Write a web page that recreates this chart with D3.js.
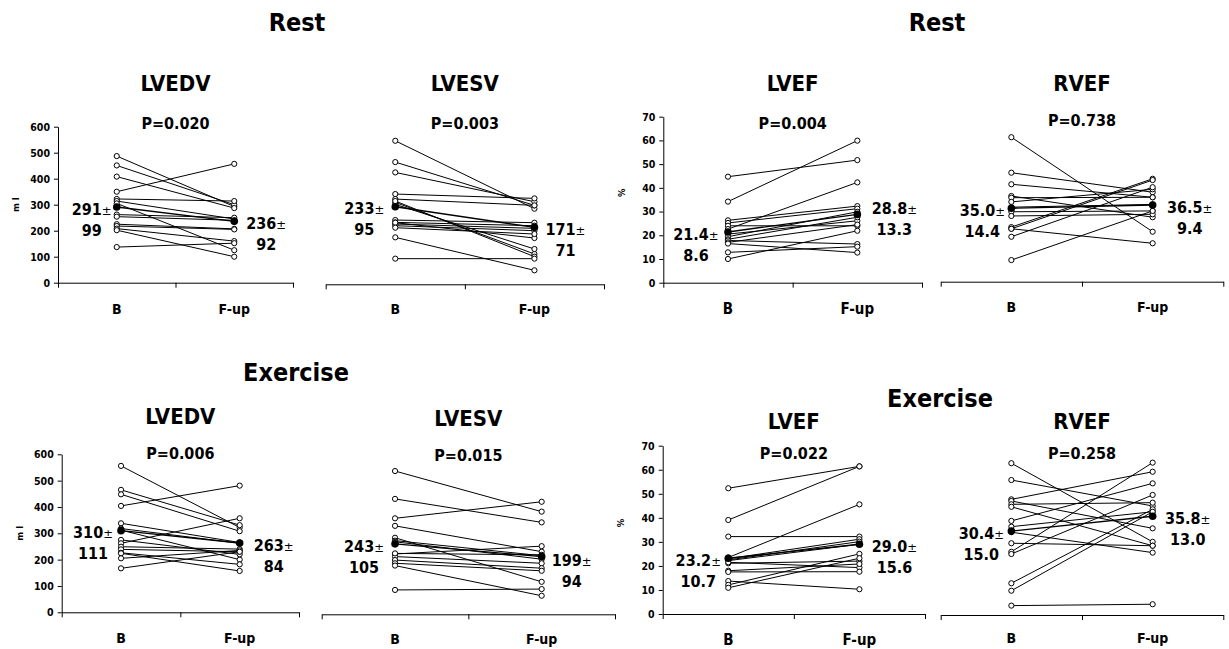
<!DOCTYPE html>
<html><head><meta charset="utf-8">
<script src="https://cdn.jsdelivr.net/npm/d3@7/dist/d3.min.js"></script>
<style>
html,body{margin:0;padding:0;background:#fff;}
svg text{font-family:'DejaVu Sans Condensed','DejaVu Sans',sans-serif;font-stretch:condensed;font-weight:bold;fill:#000;}
</style></head><body>
<svg id="c" width="1229" height="649"></svg>
<script>
// ---------------- DATA ----------------
const categories = ["B", "F-up"];
const sectionTitles = ["Rest", "Rest", "Exercise", "Exercise"];
const panelTitles = ["LVEDV", "LVESV", "LVEF", "RVEF", "LVEDV", "LVESV", "LVEF", "RVEF"];
const pValues = ["P=0.020", "P=0.003", "P=0.004", "P=0.738", "P=0.006", "P=0.015", "P=0.022", "P=0.258"];
const volumeTicks = [0, 100, 200, 300, 400, 500, 600];
const efTicks = [0, 10, 20, 30, 40, 50, 60, 70];

const restLVEDV_B = [487, 451, 408, 350, 322, 314, 305, 262, 254, 225, 218, 208, 202, 137];
const restLVEDV_F = [293, 300, 287, 457, 314, 245, 125, 250, 240, 207, 205, 160, 100, 152];
const restLVEDV_mean = [291, 236], restLVEDV_sd = [99, 92];

const restLVESV_B = [431, 367, 336, 271, 256, 246, 240, 250, 193, 186, 181, 176, 185, 170, 141, 77];
const restLVESV_F = [227, 237, 248, 258, 237, 91, 106, 83, 185, 176, 168, 161, 139, 151, 42, 77];
const restLVESV_mean = [233, 171], restLVESV_sd = [95, 71];

const restLVEF_B = [44.7, 34.2, 26.3, 25.2, 24.0, 22.6, 20.5, 19.4, 18.3, 17.8, 17.0, 16.5, 12.8, 10.0];
const restLVEF_F = [51.7, 59.9, 32.3, 31.2, 24.0, 42.3, 26.1, 29.9, 27.6, 16.3, 24.5, 12.7, 15.2, 21.9];
const restLVEF_mean = [21.4, 28.8], restLVEF_sd = [8.6, 13.3];

const restRVEF_B = [68.8, 51.9, 46.4, 40.8, 40.0, 38.0, 35.5, 33.3, 31.3, 26.0, 25.2, 25.2, 21.4, 10.3];
const restRVEF_F = [23.8, 42.6, 40.2, 30.7, 40.2, 44.0, 36.8, 33.7, 32.1, 49.0, 18.3, 48.4, 45.0, 33.7];
const restRVEF_mean = [35.0, 36.5], restRVEF_sd = [14.4, 9.4];

const exLVEDV_B = [556, 465, 448, 404, 338, 318, 312, 275, 262, 249, 239, 226, 224, 205, 167];
const exLVEDV_F = [322, 331, 308, 481, 265, 262, 200, 220, 357, 240, 230, 182, 157, 235, 230];
const exLVEDV_mean = [310, 263], exLVEDV_sd = [111, 84];

const exLVESV_B = [494, 398, 331, 305, 264, 254, 250, 208, 199, 187, 176, 168, 84, 210];
const exLVESV_F = [354, 317, 388, 216, 112, 202, 190, 235, 176, 159, 150, 64, 87, 205];
const exLVESV_mean = [243, 199], exLVESV_sd = [105, 94];

const exLVEF_B = [52.3, 39.1, 32.2, 23.5, 23.0, 22.5, 22.2, 21.1, 21.5, 18.0, 17.5, 13.7, 12.1, 10.9];
const exLVEF_F = [61.4, 61.4, 32.2, 45.6, 31.1, 30.1, 29.0, 22.0, 19.3, 20.8, 17.6, 10.3, 25.0, 23.2];
const exLVEF_mean = [23.2, 29.0], exLVEF_sd = [10.7, 15.6];

const exRVEF_B = [55.0, 48.9, 41.9, 41.3, 40.1, 39.2, 34.1, 32.0, 30.0, 26.0, 22.9, 22.1, 11.5, 8.8, 3.4];
const exRVEF_F = [26.5, 39.5, 51.9, 31.4, 40.7, 25.1, 47.7, 37.4, 22.6, 25.1, 55.2, 43.5, 38.3, 37.4, 3.9];
const exRVEF_mean = [30.4, 35.8], exRVEF_sd = [15.0, 13.0];

// ---------------- LAYOUT ----------------
const panels = [
  {b: restLVEDV_B, f: restLVEDV_F, mean: restLVEDV_mean, sd: restLVEDV_sd, dom: [0, 600], ticks: volumeTicks, unit: "m l",
   x0: 58, x1: 293, y0: 282.7, yTop: 126.7, ty: 83, py: 123, lOff: 25, rOff: 32, rDy: 0, catY: 309, catSize: 14},
  {b: restLVESV_B, f: restLVESV_F, mean: restLVESV_mean, sd: restLVESV_sd, dom: [0, 500], ticks: null,
   x0: 325.7, x1: 604, y0: 284.3, yTop: 117.8, ty: 83, py: 123, lOff: 31, rOff: 31, rDy: 0, catY: 309, catSize: 14},
  {b: restLVEF_B, f: restLVEF_F, mean: restLVEF_mean, sd: restLVEF_sd, dom: [0, 70], ticks: efTicks, unit: "%",
   x0: 663.3, x1: 922, y0: 282.7, yTop: 116.7, ty: 83, py: 123, lOff: 32, rOff: 37, rDy: -8, catY: 309, catSize: 15},
  {b: restRVEF_B, f: restRVEF_F, mean: restRVEF_mean, sd: restRVEF_sd, dom: [0, 80], ticks: null,
   x0: 940.7, x1: 1223.3, y0: 281.7, yTop: 113.7, ty: 83, py: 120, lOff: 29, rOff: 37, rDy: 0, catY: 307, catSize: 14},
  {b: exLVEDV_B, f: exLVEDV_F, mean: exLVEDV_mean, sd: exLVEDV_sd, dom: [0, 600], ticks: volumeTicks, unit: "m l",
   x0: 61.7, x1: 299, y0: 612.3, yTop: 454.3, ty: 416, py: 453.3, lOff: 28, rOff: 34, rDy: 0, catY: 638, catSize: 14},
  {b: exLVESV_B, f: exLVESV_F, mean: exLVESV_mean, sd: exLVESV_sd, dom: [0, 600], ticks: null,
   x0: 321.7, x1: 615, y0: 614.3, yTop: 440.3, ty: 418, py: 455, lOff: 31, rOff: 30, rDy: 2, catY: 639, catSize: 14},
  {b: exLVEF_B, f: exLVEF_F, mean: exLVEF_mean, sd: exLVEF_sd, dom: [0, 70], ticks: efTicks, unit: "%",
   x0: 662.7, x1: 925, y0: 614, yTop: 445.7, ty: 421, py: 453.3, lOff: 30, rOff: 35, rDy: 0, catY: 640, catSize: 15},
  {b: exRVEF_B, f: exRVEF_F, mean: exRVEF_mean, sd: exRVEF_sd, dom: [0, 60], ticks: null,
   x0: 940.7, x1: 1223.3, y0: 615, yTop: 449.4, ty: 421, py: 453.3, lOff: 30, rOff: 35, rDy: 0, catY: 638, catSize: 14}
];
const sectionPos = [[297, 22], [937, 22], [296, 372], [940, 398]];

// ---------------- DRAW ----------------
const svg = d3.select("#c");

svg.selectAll("text.section").data(sectionTitles).join("text")
  .attr("class", "section")
  .attr("x", (d, i) => sectionPos[i][0]).attr("y", (d, i) => sectionPos[i][1])
  .attr("dy", "0.36em").attr("text-anchor", "middle")
  .style("font-size", "25px").text(d => d);

panels.forEach((P, pi) => {
  const g = svg.append("g");
  const x = d3.scaleBand().domain(categories).range([P.x0, P.x1]);
  const cx = c => x(c) + x.bandwidth() / 2;
  const y = d3.scaleLinear().domain(P.dom).range([P.y0, P.yTop]);
  const midX = (P.x0 + P.x1) / 2;

  // x axis with boundary ticks
  const xb = d3.scaleLinear().domain([0, categories.length]).range([P.x0, P.x1]);
  const xa = g.append("g").attr("transform", `translate(0,${P.y0})`)
    .call(d3.axisBottom(xb).tickValues(d3.range(categories.length + 1)).tickFormat("").tickSize(5).tickSizeOuter(0));
  xa.selectAll("path,line").attr("stroke", "#000").attr("stroke-width", 1);

  g.selectAll("text.cat").data(categories).join("text").attr("class", "cat")
    .attr("x", d => cx(d)).attr("y", P.catY).attr("dy", "0.36em").attr("text-anchor", "middle")
    .style("font-size", P.catSize + "px").text(d => d);

  // y axis
  if (P.ticks) {
    const ya = g.append("g").attr("transform", `translate(${P.x0},0)`)
      .call(d3.axisLeft(y).tickValues(P.ticks).tickSize(4).tickSizeOuter(0).tickPadding(4));
    ya.selectAll("path,line").attr("stroke", "#000").attr("stroke-width", 1);
    ya.selectAll("text").style("font-size", "10.5px").style("font-family", "'DejaVu Sans Condensed','DejaVu Sans',sans-serif").style("font-weight", "bold");
    g.append("text").attr("transform", `translate(${P.x0 - 42},${(P.y0 + P.yTop) / 2 + (P.unit === "%" ? -7 : 0)}) rotate(-90)`)
      .attr("text-anchor", "middle").attr("dy", "0.36em")
      .style("font-size", "9.5px").text(P.unit);
  }

  // title and p-value, centred over the plot
  g.append("text").attr("x", midX).attr("y", P.ty).attr("dy", "0.36em").attr("text-anchor", "middle")
    .style("font-size", "22px").text(panelTitles[pi]);
  g.append("text").attr("x", midX).attr("y", P.py).attr("dy", "0.36em").attr("text-anchor", "middle")
    .style("font-size", "16px").text(pValues[pi]);

  // individual lines
  const line = d3.line();
  const pairs = P.b.map((v, i) => [v, P.f[i]]);
  g.selectAll("path.ind").data(pairs).join("path").attr("class", "ind")
    .attr("d", d => line([[cx(categories[0]), y(d[0])], [cx(categories[1]), y(d[1])]]))
    .attr("stroke", "#000").attr("stroke-width", 1).attr("fill", "none");
  // mean line
  g.append("path").attr("d", line([[cx(categories[0]), y(P.mean[0])], [cx(categories[1]), y(P.mean[1])]]))
    .attr("stroke", "#000").attr("stroke-width", 1.4).attr("fill", "none");

  const pts = [];
  P.b.forEach(v => pts.push([categories[0], v]));
  P.f.forEach(v => pts.push([categories[1], v]));
  g.selectAll("circle.ind").data(pts).join("circle").attr("class", "ind")
    .attr("cx", d => cx(d[0])).attr("cy", d => y(d[1])).attr("r", 2.6)
    .attr("fill", "#fff").attr("stroke", "#000").attr("stroke-width", 1);
  g.selectAll("circle.mean").data(P.mean).join("circle").attr("class", "mean")
    .attr("cx", (d, i) => cx(categories[i])).attr("cy", d => y(d)).attr("r", 3.8).attr("fill", "#000");

  // mean ± sd labels
  const dec = P.dom[1] <= 100 ? 1 : 0;
  P.mean.forEach((m, i) => {
    const lx = i === 0 ? cx(categories[0]) - P.lOff : cx(categories[1]) + P.rOff;
    const ly = y(m) + 2 + (i === 1 ? P.rDy : 0);
    const t1 = g.append("text").attr("x", lx).attr("y", ly).attr("dy", "0.36em").attr("text-anchor", "middle")
      .style("font-size", "16px");
    t1.append("tspan").text(m.toFixed(dec));
    t1.append("tspan").style("font-weight", "normal").style("font-size", "13px").text("±");
    g.append("text").attr("x", lx).attr("y", ly + 21).attr("dy", "0.36em").attr("text-anchor", "middle")
      .style("font-size", "16px").text(P.sd[i].toFixed(dec));
  });
});
</script>
</body></html>
